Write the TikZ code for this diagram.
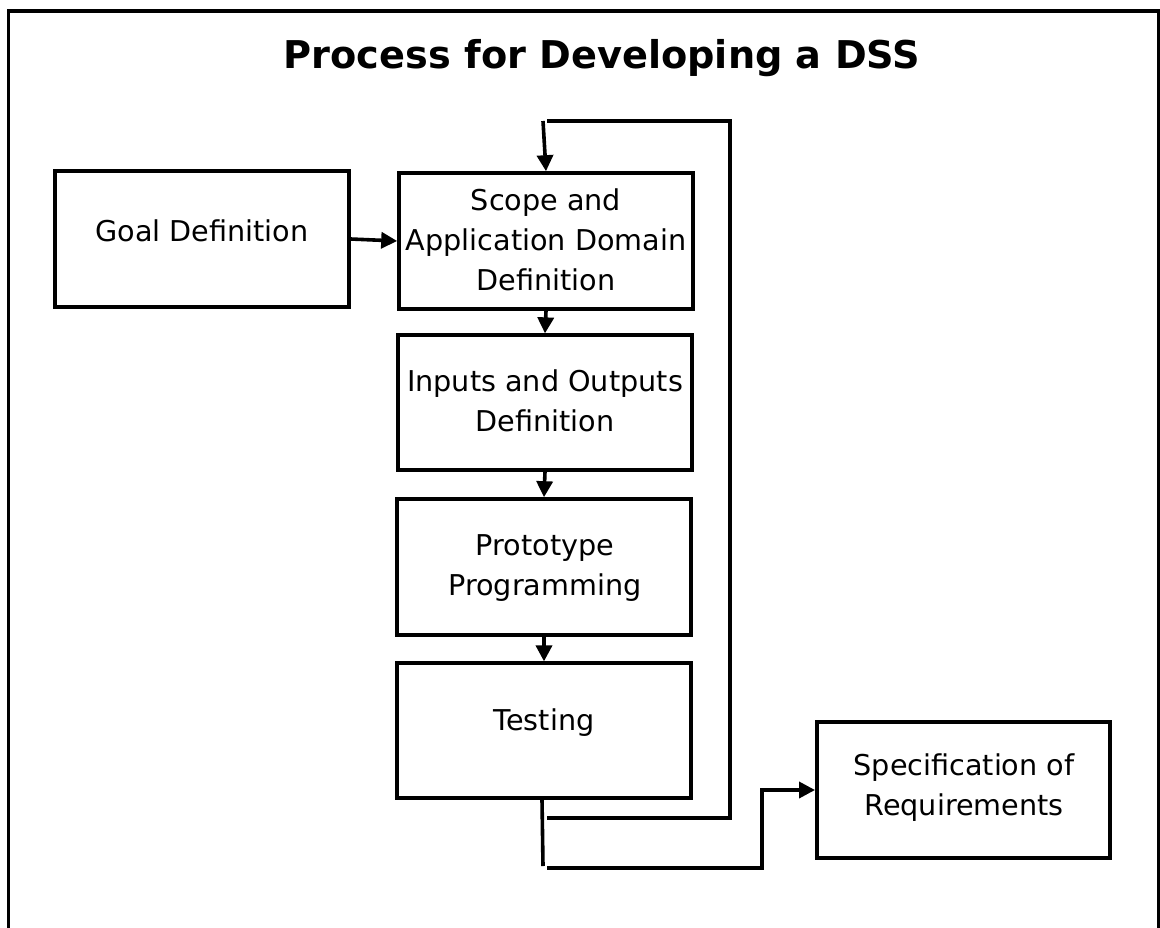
\documentclass[tikz,border=0pt]{standalone}
\usepackage{fontspec}
\setmainfont{DejaVu Sans}
\usetikzlibrary{arrows.meta}
\begin{document}
\begin{tikzpicture}[x=0.75pt,y=-0.75pt,
  box/.style={draw=black,line width=2.7pt,rectangle,inner sep=0pt},
  lbl/.style={align=center,font=\fontsize{21.5}{30}\selectfont,inner sep=0pt},
  conn/.style={line width=2.7pt,draw=black},
  arr/.style={conn,-{Triangle[length=12pt,width=12pt]}}]
% canvas and outer frame
\useasboundingbox (0,0) rectangle (1160,928);
\begin{scope}
\clip (0,0) rectangle (1160,928);
\draw[line width=2.6pt] (8.5,11) rectangle (1159,960);
\end{scope}
% title
\node[font=\fontsize{28.7}{34}\selectfont\bfseries,inner sep=0pt] (title) at (602,58) {Process for Developing a DSS};
% process boxes
\node[box,minimum width=220.5pt,minimum height=102pt] (goal) at (202,239) {};
\node[box,minimum width=220.5pt,minimum height=102pt] (scope) at (546,241) {};
\node[box,minimum width=220.5pt,minimum height=101pt] (io) at (545,402.5) {};
\node[box,minimum width=220.5pt,minimum height=102pt] (proto) at (544,567) {};
\node[box,minimum width=220.5pt,minimum height=101pt] (test) at (544,730.5) {};
\node[box,minimum width=220pt,minimum height=102pt] (spec) at (963.5,790) {};
% box texts
\node[lbl] (goalT) at (202,231) {Goal Definition};
\node[lbl] (scopeT) at (546,240) {Scope and\\Application Domain\\Definition};
\node[lbl] (ioT) at (545,401) {Inputs and Outputs\\Definition};
\node[lbl] (protoT) at (545,568) {Prototype\\Programming};
\node[lbl] (testT) at (544,723) {Testing};
\node[lbl] (specT) at (964,788) {Specification of\\Requirements};
% main flow
\draw[arr] (goal.east) -- (scope.west);
\draw[arr] (scope.south) -- (io.north);
\draw[arr] (io.south) -- (proto.north);
\draw[arr] (proto.south) -- (test.north);
% iteration loop and exit
\coordinate (split) at (543,866);
\coordinate (loopA) at (547,818);
\coordinate (loopR) at (730,121);
\coordinate (loopB) at (547,121);
\coordinate (loopIn) at (543,121);
\coordinate (exitA) at (547,868);
\coordinate (exitU) at (762,790);
\draw[conn] ([xshift=-1.5pt]test.south) -- (split);
\draw[conn] (loopA) -| (loopR) -- (loopB);
\draw[arr] (loopIn) -- (scope.north);
\draw[arr] (exitA) -| (exitU) -- (spec.west);
\end{tikzpicture}
\end{document}
